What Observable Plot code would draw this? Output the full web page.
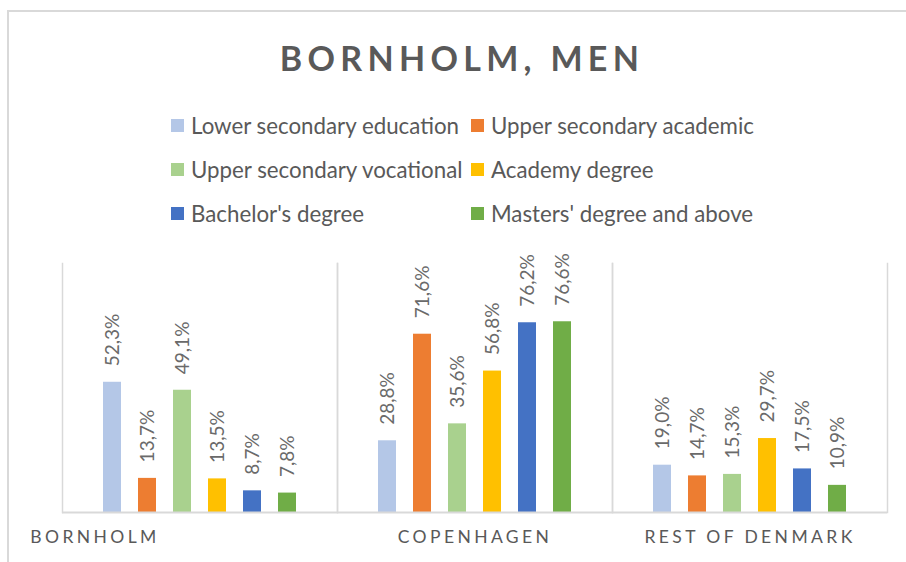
<!DOCTYPE html>
<html>
<head>
<meta charset="utf-8">
<script src="https://cdn.jsdelivr.net/npm/d3@7"></script>
<script src="https://cdn.jsdelivr.net/npm/@observablehq/plot@0.6"></script>
<style>
  html, body { margin: 0; padding: 0; background: #fff; }
  #wrap { position: relative; width: 906px; height: 562px; overflow: hidden; font-family: Lato, "Open Sans", sans-serif; color: #595959; }
  #border { position: absolute; left: 7px; top: 10px; width: 1000px; height: 700px; border-left: 2px solid #d9d9d9; border-top: 2px solid #d9d9d9; box-sizing: border-box; }
  #title { position: absolute; left: 9px; width: 906px; top: 36px; text-align: center; font-size: 34px; font-weight: 700; letter-spacing: 5.3px; line-height: 44px; }
  .leg { position: absolute; display: flex; align-items: center; font-size: 22.3px; white-space: nowrap; height: 30px; }
  .sw { width: 13px; height: 13px; margin-right: 7px; flex: none; }
  #chart { position: absolute; left: 0; top: 240px; }
</style>
</head>
<body>
<div id="wrap">
  <div id="border"></div>
  <div id="title">BORNHOLM, MEN</div>
  <div id="legend"></div>
  <div id="chart"></div>
</div>
<script>
const title = "BORNHOLM, MEN";
const regions = ["Bornholm", "Copenhagen", "Rest of Denmark"];
const levels = [
  "Lower secondary education",
  "Upper secondary academic",
  "Upper secondary vocational",
  "Academy degree",
  "Bachelor's degree",
  "Masters' degree and above"
];
const colors = ["#B4C7E7", "#ED7D31", "#A9D18E", "#FFC000", "#4472C4", "#70AD47"];
const bornholm = [52.3, 13.7, 49.1, 13.5, 8.7, 7.8];
const copenhagen = [28.8, 71.6, 35.6, 56.8, 76.2, 76.6];
const restOfDenmark = [19.0, 14.7, 15.3, 29.7, 17.5, 10.9];

const series = [bornholm, copenhagen, restOfDenmark];
const data = regions.flatMap((r, i) => series[i].map((v, j) => ({region: r, level: levels[j], value: v})));
const fmt = v => v.toFixed(1).replace(".", ",") + "%";

// Legend (2 columns x 3 rows)
const legend = document.getElementById("legend");
const colLeft = [171, 471];
const rowTop = [110, 154, 198];
levels.forEach((l, i) => {
  const item = document.createElement("div");
  item.className = "leg";
  item.style.left = colLeft[i % 2] + "px";
  item.style.top = rowTop[Math.floor(i / 2)] + "px";
  const sw = document.createElement("div");
  sw.className = "sw";
  sw.style.background = colors[i];
  item.appendChild(sw);
  item.appendChild(document.createTextNode(l));
  legend.appendChild(item);
});

const gridColor = "#d9d9d9";
const plot = Plot.plot({
  width: 906,
  height: 322,
  marginLeft: 61,
  marginRight: 19,
  marginTop: 23,
  marginBottom: 50,
  style: {fontFamily: "Lato, 'Open Sans', sans-serif", background: "transparent", overflow: "visible"},
  fx: {domain: regions, padding: 0, axis: null},
  x: {domain: levels, paddingInner: 0.486, paddingOuter: 1.17, axis: null},
  y: {domain: [0, 100], axis: null},
  color: {domain: levels, range: colors},
  marks: [
    Plot.frame({anchor: "left", stroke: gridColor, strokeWidth: 1.5}),
    Plot.frame({anchor: "right", stroke: gridColor, strokeWidth: 1.5}),
    Plot.barY(data, {fx: "region", x: "level", y: "value", fill: "level"}),
    Plot.ruleY([0], {stroke: gridColor, strokeWidth: 2}),
    Plot.text(data, {
      fx: "region", x: "level", y: "value", text: d => fmt(d.value),
      rotate: -90, textAnchor: "start", lineAnchor: "middle", dy: -16,
      fill: "#6a6a6a", fontSize: 19
    }),
    Plot.text(regions.slice(0, 1), {
      fx: d => d, text: d => d.toUpperCase(), frameAnchor: "bottom", dy: 30, dx: -105,
      fill: "#595959", fontSize: 17.5
    }),
    Plot.text(regions.slice(1), {
      fx: d => d, text: d => d.toUpperCase(), frameAnchor: "bottom", dy: 30, dx: 0,
      fill: "#595959", fontSize: 17.5
    })
  ]
});
const upper = regions.map(r => r.toUpperCase());
d3.select(plot).selectAll("text")
  .filter(function() { return upper.includes(this.textContent); })
  .attr("letter-spacing", "3.4px")
  .style("letter-spacing", "3.4px");
document.getElementById("chart").appendChild(plot);
</script>
</body>
</html>
